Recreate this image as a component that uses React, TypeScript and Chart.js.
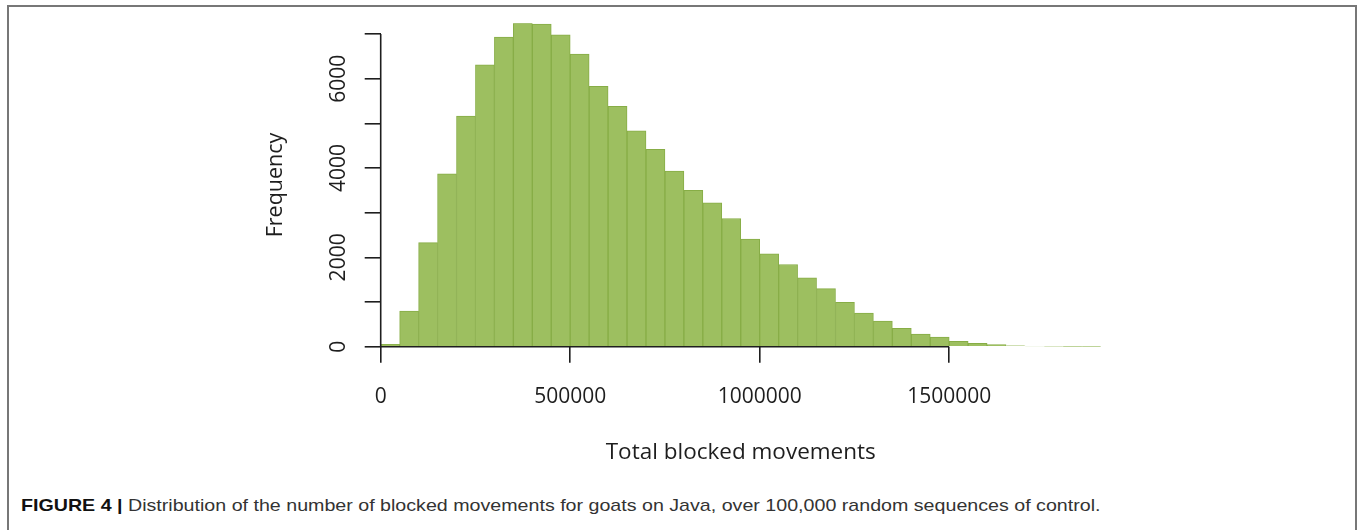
import React, { useEffect, useRef } from 'react';
import { Chart, registerables } from 'chart.js';

Chart.register(...registerables);

// Histogram bins (left edges) and counts
const binStarts = [
  0, 50000, 100000, 150000, 200000, 250000, 300000, 350000, 400000, 450000,
  500000, 550000, 600000, 650000, 700000, 750000, 800000, 850000, 900000, 950000,
  1000000, 1050000, 1100000, 1150000, 1200000, 1250000, 1300000, 1350000, 1400000, 1450000,
  1500000, 1550000, 1600000, 1650000, 1700000, 1750000, 1800000, 1850000,
];
const frequencies = [
  54, 800, 2330, 3870, 5165, 6310, 6930, 7240, 7220, 6980,
  6550, 5830, 5380, 4830, 4420, 3930, 3500, 3220, 2870, 2410,
  2080, 1840, 1540, 1300, 995, 750, 575, 410, 285, 215,
  120, 76, 45, 22, 15, 10, 6, 4,
];
const binWidth = 50000;
const xTickValues = [0, 500000, 1000000, 1500000];
const xTickLabels = ['0', '500000', '1000000', '1500000'];
const yTickValues = [0, 1000, 2000, 3000, 4000, 5000, 6000, 7000];
const yTickLabels = ['0', '', '2000', '', '4000', '', '6000', ''];
const xTitle = 'Total blocked movements';
const yTitle = 'Frequency';
const captionBold = 'FIGURE 4 |';
const captionText = ' Distribution of the number of blocked movements for goats on Java, over 100,000 random sequences of control.';

const FONT = "'Open Sans', sans-serif";
const INK = '#1e1e1e';

const axisLines = {
  id: 'axisLines',
  afterDatasetsDraw(chart: any) {
    const { ctx, chartArea } = chart;
    const xs = chart.scales.x;
    const ys = chart.scales.y;
    const xt = xs.ticks;
    const yt = ys.ticks;
    ctx.save();
    ctx.strokeStyle = INK;
    ctx.lineWidth = 1.6;
    ctx.beginPath();
    ctx.moveTo(xs.getPixelForValue(xt[0].value), chartArea.bottom);
    ctx.lineTo(xs.getPixelForValue(xt[xt.length - 1].value), chartArea.bottom);
    ctx.moveTo(chartArea.left, ys.getPixelForValue(yt[0].value));
    ctx.lineTo(chartArea.left, ys.getPixelForValue(yt[yt.length - 1].value));
    ctx.stroke();
    ctx.restore();
  },
};

export default function App() {
  const canvasRef = useRef<HTMLCanvasElement | null>(null);

  useEffect(() => {
    document.body.style.margin = '0';
    const canvas = canvasRef.current;
    if (!canvas) return;
    const data = binStarts.map((s, i) => ({ x: s + binWidth / 2, y: frequencies[i] }));
    const chart = new Chart(canvas, {
      type: 'bar',
      data: {
        datasets: [
          {
            data,
            backgroundColor: '#9dbf60',
            borderColor: '#87ad46',
            borderWidth: 1,
            barPercentage: 1,
            categoryPercentage: 1,
          },
        ],
      },
      options: {
        animation: false,
        responsive: false,
        maintainAspectRatio: false,
        devicePixelRatio: 1,
        layout: { padding: { left: 250, right: 257.2, top: 23.3, bottom: 13.3 } },
        plugins: { legend: { display: false }, tooltip: { enabled: false } },
        scales: {
          x: {
            type: 'linear',
            min: 0,
            max: 1900000,
            offset: false,
            border: { display: false },
            grid: { offset: false, drawOnChartArea: false, drawTicks: true, tickLength: 16, color: INK, lineWidth: 1.6 },
            afterBuildTicks: (s: any) => {
              s.ticks = xTickValues.map((v) => ({ value: v }));
            },
            ticks: {
              autoSkip: false,
              maxRotation: 0,
              minRotation: 0,
              padding: 22,
              color: INK,
              font: { family: FONT, size: 21 },
              callback: (v: any, i: number) => xTickLabels[i] ?? '',
            },
            title: {
              display: true,
              text: xTitle,
              color: INK,
              font: { family: FONT, size: 22.5 },
              padding: { top: 0, bottom: 1 },
            },
            afterFit: (s: any) => {
              s.height = 120;
            },
          },
          y: {
            type: 'linear',
            min: 0,
            max: 7240,
            border: { display: false },
            grid: { drawOnChartArea: false, drawTicks: true, tickLength: 16, color: INK, lineWidth: 1.6 },
            afterBuildTicks: (s: any) => {
              s.ticks = yTickValues.map((v) => ({ value: v }));
            },
            ticks: {
              autoSkip: false,
              minRotation: 90,
              maxRotation: 90,
              crossAlign: 'center',
              padding: 2,
              color: INK,
              font: { family: FONT, size: 21 },
              callback: (v: any, i: number) => yTickLabels[i] ?? '',
            },
            title: {
              display: true,
              text: yTitle,
              color: INK,
              font: { family: FONT, size: 21.5 },
              padding: { top: 13, bottom: 0 },
            },
            afterFit: (s: any) => {
              s.width = 130.7;
            },
          },
        },
      },
      plugins: [axisLines],
    });
    return () => chart.destroy();
  }, []);

  return (
    <div style={{ position: 'relative', width: 1358, height: 530, overflow: 'hidden', background: '#fff' }}>
      <div
        style={{
          position: 'absolute',
          left: 7,
          top: 5,
          width: 1346,
          height: 530,
          border: '2px solid #777',
          borderBottom: 'none',
        }}
      />
      <canvas ref={canvasRef} width={1358} height={480} style={{ position: 'absolute', left: 0, top: 0, display: 'block' }} />
      <div
        style={{
          position: 'absolute',
          left: 21,
          top: 496,
          whiteSpace: 'nowrap',
          fontFamily: "'Liberation Sans', Arial, sans-serif",
          fontSize: 17,
          color: '#333',
          transform: 'scaleX(1.155)',
          transformOrigin: 'left top',
        }}
      >
        <span style={{ fontWeight: 'bold', color: '#111' }}>{captionBold}</span>
        {captionText}
      </div>
    </div>
  );
}
